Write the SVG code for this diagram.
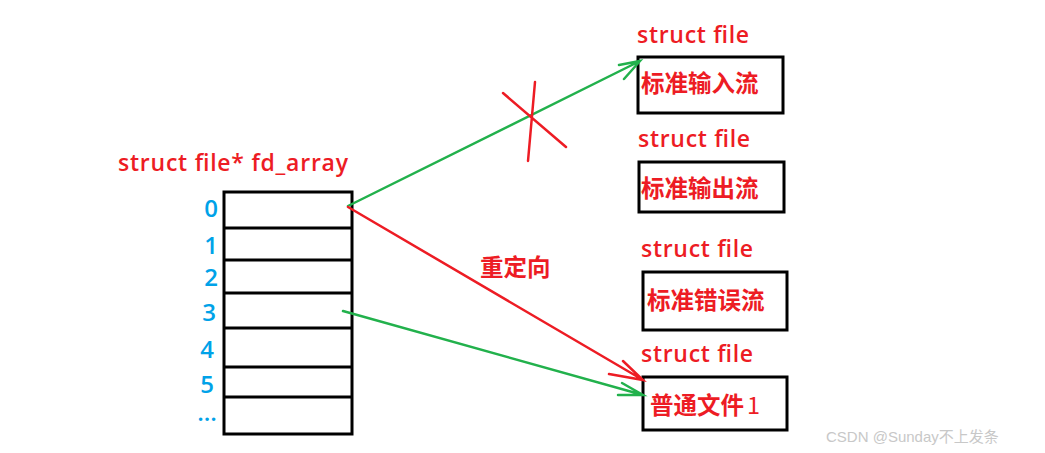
<svg xmlns="http://www.w3.org/2000/svg" width="1045" height="453" viewBox="0 0 1045 453">
<style>
.red{fill:#ed1c24;font-family:"Open Sans","Liberation Sans","Noto Sans CJK SC",sans-serif;font-size:23px;font-weight:600;}
.cjk{fill:#ed1c24;font-family:"Noto Sans CJK SC",sans-serif;font-size:23.5px;font-weight:bold;}
.num{fill:#00a2e8;font-family:"Open Sans","Liberation Sans",sans-serif;font-size:24px;font-weight:600;text-anchor:middle;}
.box{fill:none;stroke:#000;stroke-width:3;}
.g{stroke:#22b14c;stroke-width:2.5;fill:none;stroke-linecap:round;}
.r{stroke:#ed1c24;stroke-width:2.5;fill:none;stroke-linecap:round;}
</style>
<rect width="1045" height="453" fill="#fff"/>
<g id="fd_array">
<text class="red" x="118" y="171" textLength="230">struct file* fd_array</text>
<rect class="box" x="224" y="192" width="128" height="242"/>
<path class="box" d="M224 228H352M224 260H352M224 293H352M224 328H352M224 367H352M224 397H352"/>
<text class="num" x="211" y="217">0</text>
<text class="num" x="211" y="254">1</text>
<text class="num" x="211" y="286">2</text>
<text class="num" x="209" y="321">3</text>
<text class="num" x="207" y="358">4</text>
<text class="num" x="207" y="393">5</text>
<text class="num" x="207" y="421" font-size="16">...</text>
</g>
<g id="stdin">
<text class="red" x="637" y="43" textLength="112">struct file</text>
<rect class="box" x="638" y="57" width="145" height="56"/>
<text class="cjk" x="641" y="92">标准输入流</text>
</g>
<g id="stdout">
<text class="red" x="638" y="147" textLength="112">struct file</text>
<rect class="box" x="639" y="162" width="145" height="50"/>
<text class="cjk" x="641" y="197">标准输出流</text>
</g>
<g id="stderr">
<text class="red" x="641" y="257" textLength="112">struct file</text>
<rect class="box" x="643" y="272" width="144" height="58"/>
<text class="cjk" x="647" y="309">标准错误流</text>
</g>
<g id="file1">
<text class="red" x="641" y="362" textLength="112">struct file</text>
<rect class="box" x="643" y="377" width="144" height="53"/>
<text class="cjk" x="650" y="414">普通文件<tspan font-weight="normal" dx="3">1</tspan></text>
</g>
<g id="connectors">
<path class="g" d="M348 206L640 61M619 65L640 61L624 79"/>
<path class="r" d="M503 93L566 147M535 82L528 161"/>
<path class="r" d="M348 207L643 380M623 361L643 380L609 374"/>
<path class="g" d="M343 311L643 395M622 383L643 395L618 395"/>
<text class="cjk" x="480" y="276" font-size="25">重定向</text>
</g>
<text x="826" y="442" fill="#c8c8c8" font-family="Liberation Sans,Noto Sans CJK SC,sans-serif" font-size="15">CSDN @Sunday不上发条</text>
</svg>
